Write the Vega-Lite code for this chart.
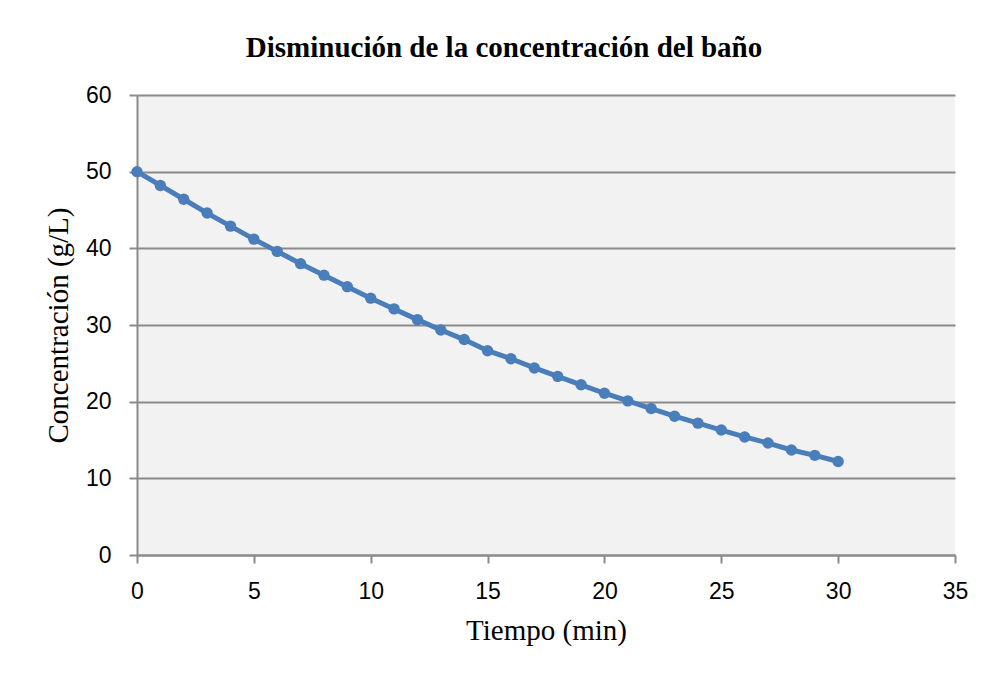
{
  "$schema": "https://vega.github.io/schema/vega-lite/v6.json",
  "width": 818,
  "height": 460,
  "autosize": {"type": "none"},
  "padding": {"left": 137, "top": 95, "right": 34, "bottom": 122},
  "background": "white",
  "title": {
    "text": "Disminución de la concentración del baño",
    "font": "Liberation Serif",
    "fontSize": 29,
    "fontWeight": "bold",
    "color": "black",
    "anchor": "middle",
    "dx": -42,
    "offset": 21
  },
  "data": {
    "values": [
      {"t": 0, "c": 50.0}, {"t": 1, "c": 48.2}, {"t": 2, "c": 46.4}, {"t": 3, "c": 44.6},
      {"t": 4, "c": 42.9}, {"t": 5, "c": 41.2}, {"t": 6, "c": 39.6}, {"t": 7, "c": 38.0},
      {"t": 8, "c": 36.5}, {"t": 9, "c": 35.0}, {"t": 10, "c": 33.5}, {"t": 11, "c": 32.1},
      {"t": 12, "c": 30.7}, {"t": 13, "c": 29.35}, {"t": 14, "c": 28.1}, {"t": 15, "c": 26.65},
      {"t": 16, "c": 25.6}, {"t": 17, "c": 24.4}, {"t": 18, "c": 23.3}, {"t": 19, "c": 22.2},
      {"t": 20, "c": 21.1}, {"t": 21, "c": 20.1}, {"t": 22, "c": 19.1}, {"t": 23, "c": 18.1},
      {"t": 24, "c": 17.2}, {"t": 25, "c": 16.3}, {"t": 26, "c": 15.4}, {"t": 27, "c": 14.6},
      {"t": 28, "c": 13.7}, {"t": 29, "c": 13.0}, {"t": 30, "c": 12.2}
    ]
  },
  "config": {
    "view": {"fill": "#F2F2F2", "stroke": null},
    "axis": {
      "labelFont": "Liberation Sans",
      "labelFontSize": 23,
      "labelColor": "black",
      "titleFont": "Liberation Serif",
      "titleFontSize": 29,
      "titleFontWeight": "normal",
      "titleColor": "black",
      "domainColor": "#8A8A8A",
      "domainWidth": 2,
      "tickColor": "#8A8A8A",
      "tickWidth": 2,
      "gridColor": "#8A8A8A",
      "gridWidth": 2
    }
  },
  "encoding": {
    "x": {
      "field": "t",
      "type": "quantitative",
      "title": "Tiempo (min)",
      "scale": {"domain": [0, 35], "nice": false, "zero": true},
      "axis": {"values": [0, 5, 10, 15, 20, 25, 30, 35], "grid": false, "tickSize": 8, "labelPadding": 17, "titlePadding": 13, "labelFlush": false}
    },
    "y": {
      "field": "c",
      "type": "quantitative",
      "title": "Concentración (g/L)",
      "scale": {"domain": [0, 60], "nice": false},
      "axis": {"values": [0, 10, 20, 30, 40, 50, 60], "grid": true, "tickSize": 8, "labelPadding": 18, "titlePadding": 12}
    }
  },
  "layer": [
    {"mark": {"type": "line", "color": "#4A7EBB", "strokeWidth": 5}},
    {"mark": {"type": "point", "filled": true, "color": "#4A7EBB", "opacity": 1, "size": 130}}
  ]
}
